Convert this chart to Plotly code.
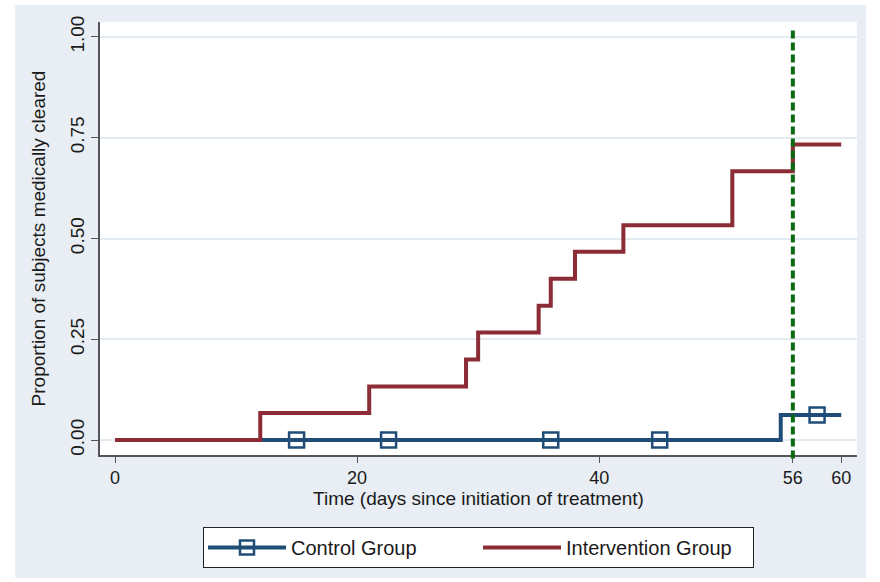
import plotly.graph_objects as go

# Kaplan-Meier style cumulative clearance curves
intervention_days = [0, 12, 21, 29, 30, 35, 36, 38, 42, 51, 56, 60]
intervention_prop = [0, 0.067, 0.133, 0.200, 0.267, 0.333, 0.400, 0.467, 0.533, 0.667, 0.733, 0.733]

control_days = [0, 55, 60]
control_prop = [0, 0.0625, 0.0625]

# censoring marks on the control curve
control_censor_days = [15, 22.6, 36, 45, 58]
control_censor_prop = [0, 0, 0, 0, 0.0625]

cutoff_day = 56
x_ticks = [0, 20, 40, 56, 60]
y_ticks = [0, 0.25, 0.5, 0.75, 1.0]
y_tick_text = ["0.00", "0.25", "0.50", "0.75", "1.00"]

BLUE = "#1f4d78"
RED = "#8b2c36"
GREEN = "#0b6a12"
BG = "#e8eef3"
FONT = "Liberation Sans, Arial, sans-serif"

fig = go.Figure()

fig.add_trace(go.Scatter(
    x=control_days, y=control_prop, mode="lines", line_shape="hv",
    line=dict(color=BLUE, width=4), showlegend=False, legendgroup="c",
))
fig.add_trace(go.Scatter(
    x=control_censor_days, y=control_censor_prop, mode="markers",
    marker=dict(symbol="square-open", size=15, color=BLUE, line=dict(width=2.5, color=BLUE)),
    showlegend=False, legendgroup="c",
))
fig.add_trace(go.Scatter(
    x=[None], y=[None], mode="lines+markers", name="Control Group",
    line=dict(color=BLUE, width=4),
    marker=dict(symbol="square-open", size=14, color=BLUE, line=dict(width=2.5, color=BLUE)),
    legendgroup="c",
))
fig.add_trace(go.Scatter(
    x=intervention_days, y=intervention_prop, mode="lines", line_shape="hv",
    line=dict(color=RED, width=4), name="Intervention Group",
))

shapes = [
    # light outer panel
    dict(type="rect", xref="paper", yref="paper", x0=-0.112, x1=1.012, y0=-0.284, y1=1.039,
         fillcolor=BG, line=dict(width=0), layer="below"),
    # white plot region
    dict(type="rect", xref="paper", yref="paper", x0=0, x1=1, y0=0, y1=1,
         fillcolor="white", line=dict(width=0), layer="below"),
    # end-of-treatment marker
    dict(type="line", xref="x", yref="paper", x0=cutoff_day, x1=cutoff_day, y0=-0.008, y1=0.985,
         line=dict(color=GREEN, width=4, dash="8px,4px"), layer="above"),
]

fig.update_layout(
    width=880, height=582,
    margin=dict(l=100, r=23, t=22, b=127),
    paper_bgcolor="white", plot_bgcolor="white",
    font=dict(family=FONT, size=18, color="#1a1a1a"),
    shapes=shapes,
    showlegend=True,
    legend=dict(
        orientation="h", x=0.500, xanchor="center", y=-0.166, yanchor="top",
        bgcolor="white", bordercolor="#222", borderwidth=1,
        font=dict(family=FONT, size=20, color="#1a1a1a"),
        entrywidth=182, itemwidth=78,
    ),
)

fig.update_xaxes(
    range=[-1.24, 61.3], tickmode="array", tickvals=x_ticks,
    ticks="outside", ticklen=6, tickcolor="#555", tickwidth=1,
    showline=True, linecolor="#555", linewidth=1.5,
    showgrid=False, zeroline=False,
    tickfont=dict(size=18),
    title=dict(text="Time (days since initiation of treatment)", font=dict(size=19), standoff=4),
)
fig.update_yaxes(
    range=[-0.037, 1.037], tickmode="array", tickvals=y_ticks, ticktext=y_tick_text,
    tickangle=-90,
    ticks="outside", ticklen=7, tickcolor="#555", tickwidth=1,
    showline=True, linecolor="#555", linewidth=1.5,
    showgrid=True, gridcolor="#e3ebf1", gridwidth=1.5, zeroline=False,
    tickfont=dict(size=19),
    title=dict(text="Proportion of subjects medically cleared", font=dict(size=19), standoff=16),
)

fig.write_html("out.html")
